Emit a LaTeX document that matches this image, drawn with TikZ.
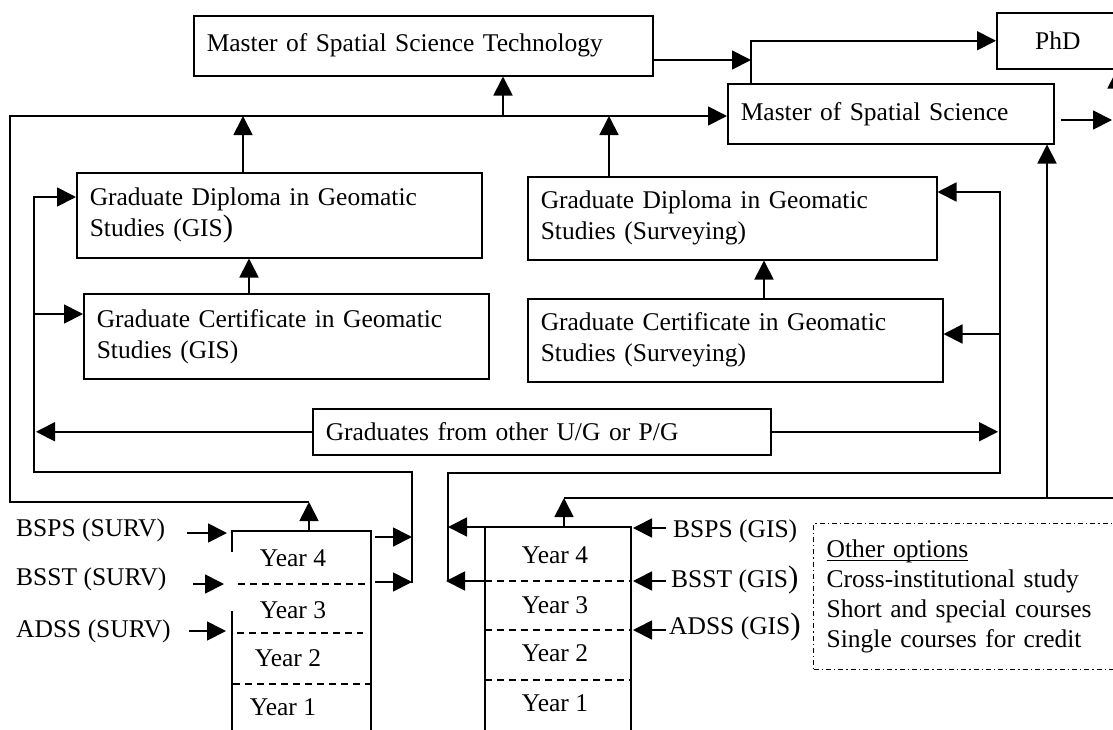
\documentclass[tikz,border=0pt]{standalone}
\usepackage{fontspec}
\setmainfont{Liberation Serif}
\usetikzlibrary{arrows.meta}
\newcommand{\bigparen}{{\fontsize{31}{31}\selectfont)}}
\newcommand{\myul}[1]{\setbox0\hbox{#1}\rlap{\rule[-3pt]{\wd0}{1.2pt}}#1}
\begin{document}
\begin{tikzpicture}[x=1pt,y=-1pt,
  every node/.style={font=\fontsize{25.5}{31}\selectfont},
  box/.style={draw, line width=1.5pt, inner xsep=13pt, inner ysep=0pt, align=left, anchor=north west},
  lbl/.style={inner sep=0pt, anchor=west},
  yr/.style={inner sep=0pt},
  conn/.style={line width=1.8pt},
  arr/.style={line width=1.8pt, -{Triangle[length=19pt,width=19pt]}},
  col/.style={line width=1.8pt},
  yrdiv/.style={line width=1.8pt, dash pattern=on 7pt off 5pt},
  other/.style={draw, line width=1.3pt, dash pattern=on 5pt off 3pt on 1.3pt off 3pt,
     inner xsep=13pt, inner ysep=0pt, align=left, anchor=north west,
     font=\fontsize{25.5}{30}\selectfont}
]
\useasboundingbox (0,0) rectangle (1113,729);
\clip (0,0) rectangle (1113,729);

% ---- boxes ----
\node[box, minimum height=60pt, text width=433pt] (msst) at (193,15) {Master of Spatial Science Technology};
\node[box, minimum height=56pt, text width=96pt, align=center] (phd) at (996,12) {PhD};
\node[box, minimum height=60pt, text width=300pt] (mss) at (727,83) {Master of Spatial Science};
\node[box, minimum height=85pt, text width=379pt] (gdg) at (76,172) {Graduate Diploma in Geomatic\\Studies (GIS\bigparen};
\node[box, minimum height=85pt, text width=379pt] (gcg) at (83,293) {Graduate Certificate in Geomatic\\Studies (GIS)};
\node[box, minimum height=83pt, text width=383pt] (gds) at (527,176) {Graduate Diploma in Geomatic\\Studies (Surveying)};
\node[box, minimum height=83pt, text width=389pt] (gcs) at (527,298) {Graduate Certificate in Geomatic\\Studies (Surveying)};
\node[box, minimum height=46pt, text width=432pt] (grad) at (312,408) {Graduates from other U/G or P/G};
\node[other, minimum height=146pt, text width=294pt] (oth) at (813,523)
  {\myul{Other options}\\Cross-institutional study\\Short and special courses\\Single courses for credit};

% ---- year columns ----
\draw[col] (232,552) -- (232,531) -- (371,531) -- (371,740);
\draw[col] (232,611) -- (232,740);
\draw[yrdiv] (238,584) -- (370,584);
\draw[yrdiv] (237,633) -- (363,633);
\draw[yrdiv] (233,684) -- (370,684);
\node[yr] (s4) at (293,558) {Year 4};
\node[yr] (s3) at (293,610) {Year 3};
\node[yr] (s2) at (288,658) {Year 2};
\node[yr] (s1) at (283,707) {Year 1};

\draw[col] (485,740) -- (485,527) -- (631,527) -- (631,740);
\draw[yrdiv] (485,581) -- (631,581);
\draw[yrdiv] (485,630) -- (631,630);
\draw[yrdiv] (485,680) -- (631,680);
\node[yr] (g4) at (555,555) {Year 4};
\node[yr] (g3) at (555,605) {Year 3};
\node[yr] (g2) at (555,653) {Year 2};
\node[yr] (g1) at (555,703) {Year 1};

% ---- entry labels ----
\node[lbl] (bspsS) at (16,530) {BSPS (SURV)};
\node[lbl] (bsstS) at (16,579) {BSST (SURV)};
\node[lbl] (adssS) at (16,631) {ADSS (SURV)};
\node[lbl] (bspsG) at (673,531) {BSPS (GIS)};
\node[lbl] (bsstG) at (671,580) {BSST (GIS\bigparen};
\node[lbl] (adssG) at (669,627) {ADSS (GIS\bigparen};

\coordinate (a1s) at (187,533); \coordinate (a1e) at (227,533);
\coordinate (a2s) at (193,584); \coordinate (a2e) at (224,584);
\coordinate (a3s) at (189,631); \coordinate (a3e) at (226,631);
\draw[arr] (a1s) -- (a1e);
\draw[arr] (a2s) -- (a2e);
\draw[arr] (a3s) -- (a3e);
\coordinate (b1s) at (666,528); \coordinate (b1e) at (633,528);
\coordinate (b2s) at (666,581); \coordinate (b2e) at (633,581);
\coordinate (b3s) at (666,630); \coordinate (b3e) at (633,630);
\draw[arr] (b1s) -- (b1e);
\draw[arr] (b2s) -- (b2e);
\draw[arr] (b3s) -- (b3e);

% ---- top connectors ----
\coordinate (k751) at (751,60);
\draw[arr] (msst.east |- k751) -- (k751);
\draw[arr] (mss.north -| k751) -- (k751 |- phd.west) -- (phd.west);
\coordinate (rStart) at (1061,120); \coordinate (rEnd) at (1112,120);
\draw[arr] (rStart) -- (rEnd);

% ---- bus to Master of Spatial Science ----
\coordinate (busL) at (10,116);
\coordinate (sTop) at (309,531); \coordinate (sBus) at (309,502);
\draw[arr] (sTop) -- (sBus);
\draw[arr] (sBus) -| (busL) -- (busL -| mss.west);
\coordinate (j243) at (243,116);
\coordinate (j503) at (503,116);
\coordinate (j609) at (609,116);
\coordinate (j249) at (249,0);
\coordinate (j764) at (764,0);
\draw[arr] (gdg.north -| j243) -- (j243);
\draw[arr] (j503) -- (msst.south -| j503);
\draw[arr] (gds.north -| j609) -- (j609);
\draw[arr] (gcg.north -| j249) -- (gdg.south -| j249);
\draw[arr] (gcs.north -| j764) -- (gds.south -| j764);

% ---- inner left loop ----
\coordinate (iL) at (34,472); \coordinate (iR) at (412,472); \coordinate (iB) at (412,583);
\coordinate (iT) at (34,197); \coordinate (iM) at (34,314);
\draw[arr] (iB) -- (iR) -- (iL) -- (iT) -- (iT -| gdg.west);
\draw[arr] (iM) -- (iM -| gcg.west);
\draw[arr] (grad.west) -- ([xshift=2pt]grad.west -| iL);
\coordinate (c1) at (375,537); \coordinate (c2) at (375,582);
\draw[arr] (c1) -- (c1 -| iR);
\draw[arr] (c2) -- (c2 -| iR);

% ---- inner right loop ----
\coordinate (rB) at (448,581); \coordinate (rL) at (448,473); \coordinate (rR) at (1000,473);
\coordinate (rT) at (1000,192); \coordinate (rM) at (1000,334);
\draw[arr] (rB) -- (rL) -- (rR) -- (rT) -- (rT -| gds.east);
\draw[arr] (rM) -- (rM -| gcs.east);
\draw[arr] (grad.east) -- ([xshift=-2pt]grad.east -| rR);
\coordinate (d1) at (485,527); \coordinate (d2) at (485,581);
\draw[arr] (d1) -- (d1 -| rL);
\draw[arr] (d2) -- ([xshift=-2pt]d2 -| rL);

% ---- GIS column up to MSS and PhD ----
\coordinate (gTop) at (564,527); \coordinate (gBus) at (564,498);
\coordinate (pR) at (1117,498); \coordinate (m1047) at (1047,498);
\draw[arr] (gTop) -- (gBus);
\draw[arr] (gBus) -- (pR) -- (pR |- phd.south);
\draw[arr] (m1047) -- (m1047 |- mss.south);
\end{tikzpicture}
\end{document}
